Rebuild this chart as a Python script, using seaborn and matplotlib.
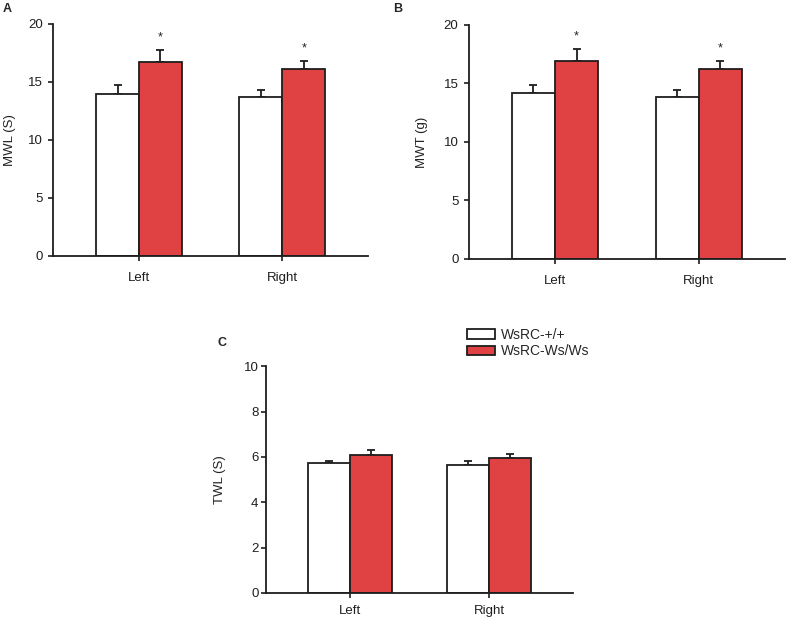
import pandas as pd
import numpy as np
import matplotlib.pyplot as plt
import seaborn as sns
from matplotlib.patches import Patch

sns.set_theme(style="white")
plt.rcParams['font.family'] = ['Liberation Sans', 'DejaVu Sans']

# Data
sides = ['Left', 'Right']
groups = ['WsRC-+/+', 'WsRC-Ws/Ws']

mwl_wt = [14.0, 13.73]
mwl_ws = [16.72, 16.09]
mwl_wt_err = [0.74, 0.55]
mwl_ws_err = [1.04, 0.69]

mwt_wt = [14.16, 13.87]
mwt_ws = [16.92, 16.24]
mwt_wt_err = [0.74, 0.55]
mwt_ws_err = [1.0, 0.68]

twl_wt = [5.73, 5.64]
twl_ws = [6.08, 5.93]
twl_wt_err = [0.1, 0.2]
twl_ws_err = [0.21, 0.19]

colors = ['#ffffff', '#e04244']
edge = '#1e1e1e'


def make_df(wt, ws, wt_err, ws_err):
    return pd.DataFrame({
        'side': sides * 2,
        'group': [groups[0]] * 2 + [groups[1]] * 2,
        'value': wt + ws,
        'err': wt_err + ws_err,
    })


def draw_panel(ax, df, ylabel, ymax, ystep, label_x, ypad, xpad, stars=False):
    sns.barplot(data=df, x='side', y='value', hue='group', hue_order=groups,
                palette=colors, saturation=1, edgecolor=edge, linewidth=1.3,
                width=0.6, errorbar=None, legend=False, ax=ax, zorder=2)
    bars = [p for p in ax.patches if p.get_height() > 0]
    xs = [p.get_x() + p.get_width() / 2 for p in bars]
    ys = [p.get_height() for p in bars]
    errs = list(df['err'])
    ax.errorbar(xs, ys, yerr=[np.zeros(len(errs)), errs], fmt='none',
                ecolor=edge, elinewidth=1.3, capsize=3.2, capthick=1.3, zorder=1)
    if stars:
        for x, y, e, g in zip(xs, ys, errs, df['group']):
            if g == groups[1]:
                ax.text(x, y + e + ymax * 0.03, '*', ha='center', va='bottom',
                        fontsize=9, color='#222222')
    ax.set_xlim(-0.6, 1.6)
    ax.set_ylim(0, ymax)
    ax.set_yticks(np.arange(0, ymax + 0.01, ystep))
    ax.set_xlabel('')
    ax.set_ylabel(ylabel, fontsize=9.5, color='#222222')
    ax.yaxis.set_label_coords(label_x, 0.5)
    sns.despine(ax=ax)
    for s in ['left', 'bottom']:
        ax.spines[s].set_color(edge)
        ax.spines[s].set_linewidth(1.3)
    ax.tick_params(axis='y', direction='out', length=3.5, width=1.2, pad=ypad,
                   labelsize=9.5, colors=edge, left=True)
    ax.tick_params(axis='x', direction='out', length=3.5, width=1.2, pad=xpad,
                   labelsize=9.5, colors=edge, bottom=True)


fig = plt.figure(figsize=(7.88, 6.18), dpi=100)
ax_a = fig.add_axes([0.0673, 0.5858, 0.400, 0.3754])
ax_b = fig.add_axes([0.595, 0.581, 0.401, 0.3786])
ax_c = fig.add_axes([0.3376, 0.0405, 0.3896, 0.367])

draw_panel(ax_a, make_df(mwl_wt, mwl_ws, mwl_wt_err, mwl_ws_err), 'MWL (S)', 20, 5, -0.117, 4, 8, stars=True)
draw_panel(ax_b, make_df(mwt_wt, mwt_ws, mwt_wt_err, mwt_ws_err), 'MWT (g)', 20, 5, -0.13, 4, 8, stars=True)
draw_panel(ax_c, make_df(twl_wt, twl_ws, twl_wt_err, twl_ws_err), 'TWL (S)', 10, 2, -0.13, 2, 5)

fig.text(3 / 788, 1 - 9 / 618, 'A', fontsize=9, fontweight='bold', va='center', ha='left')
fig.text(393 / 788, 1 - 9 / 618, 'B', fontsize=9, fontweight='bold', va='center', ha='left')
fig.text(218 / 788, 1 - 343 / 618, 'C', fontsize=9, fontweight='bold', va='center', ha='left')

handles = [Patch(facecolor=c, edgecolor=edge, linewidth=1.3) for c in colors]
fig.legend(handles, groups, loc='upper left', bbox_to_anchor=(467 / 788, 1 - 328 / 618),
           frameon=False, fontsize=10, handlelength=2.0, handleheight=0.65,
           handletextpad=0.45, labelspacing=0.15, borderpad=0, borderaxespad=0)

plt.savefig('out.png', dpi=100)
plt.close()
